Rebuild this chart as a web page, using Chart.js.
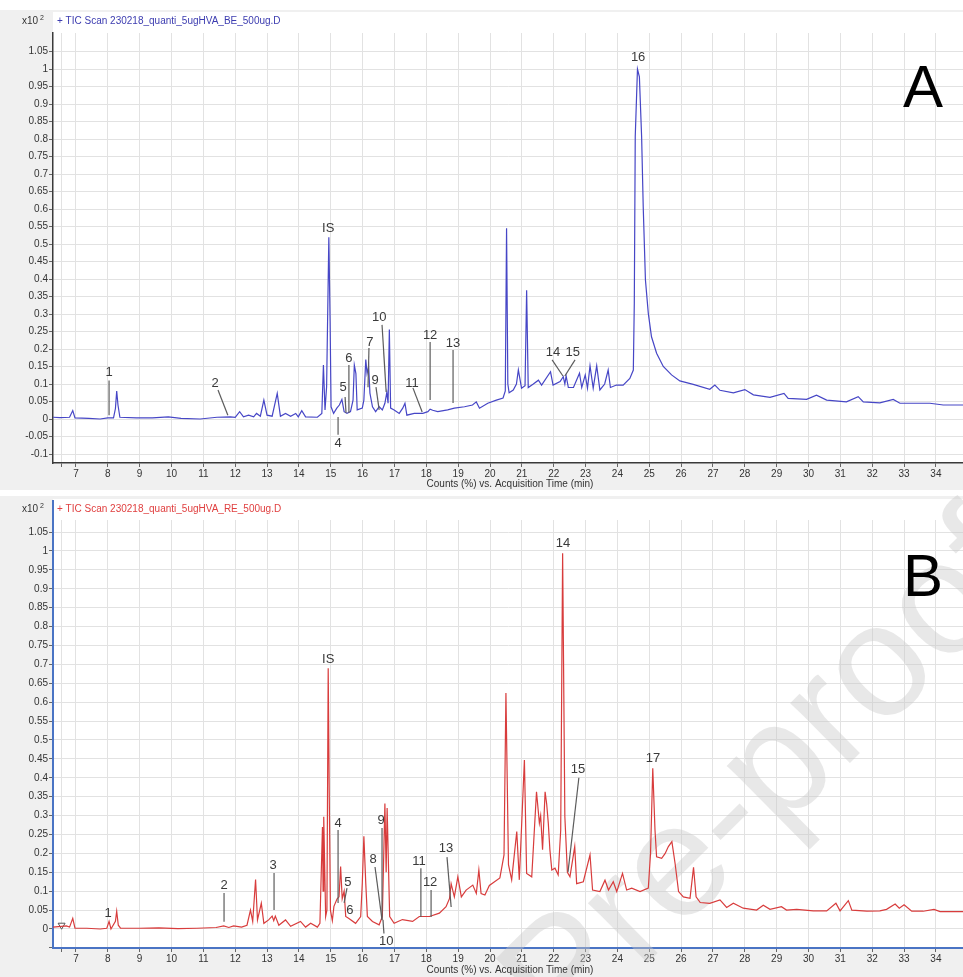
<!DOCTYPE html>
<html>
<head>
<meta charset="utf-8">
<script src="https://cdn.jsdelivr.net/npm/chart.js@4/dist/chart.umd.min.js"></script>
<style>
  html, body { margin: 0; padding: 0; background: #fff; }
  #wrap { width: 963px; height: 977px; }
  canvas { display: block; }
</style>
</head>
<body>
<div id="wrap">
  <canvas id="chartA" width="963" height="490"></canvas>
  <canvas id="chartB" width="963" height="487"></canvas>
</div>
<script>
// ── Data (time in min, counts in x10^2 %) ──

const timeA = [6.28, 6.5, 6.8, 6.9, 6.97, 7.4, 7.76, 8.0, 8.18, 8.24, 8.28, 8.32, 8.38, 8.9, 9.4, 9.9, 10.3, 10.9,
  11.43, 11.85, 12.0, 12.14, 12.26, 12.42, 12.58, 12.67, 12.79, 12.9, 13.0, 13.16, 13.32, 13.42, 13.58, 13.74,
  13.9, 13.98, 14.09, 14.21, 14.58, 14.72, 14.77, 14.82, 14.87, 14.94, 14.98, 15.01, 15.09, 15.19, 15.27, 15.35,
  15.42, 15.51, 15.62, 15.7, 15.74, 15.79, 15.83, 15.99, 16.04, 16.1, 16.14, 16.19, 16.23, 16.31, 16.41, 16.52,
  16.62, 16.7, 16.76, 16.8, 16.84, 16.88, 16.99, 17.15, 17.26, 17.33, 17.39, 17.62, 17.89, 18.05, 18.12, 18.2,
  18.36, 18.67, 18.88, 19.2, 19.45, 19.57, 19.67, 19.93, 20.2, 20.41, 20.48, 20.52, 20.56, 20.6, 20.73, 20.83,
  20.89, 20.99, 21.1, 21.15, 21.2, 21.36, 21.52, 21.62, 21.9, 21.98, 22.2, 22.3, 22.35, 22.39, 22.46, 22.62,
  22.81, 22.88, 22.99, 23.06, 23.14, 23.24, 23.35, 23.45, 23.6, 23.71, 23.78, 23.97, 24.18, 24.39, 24.5, 24.53,
  24.56, 24.63, 24.69, 24.76, 24.81, 24.88, 24.97, 25.07, 25.23, 25.44, 25.7, 25.96, 26.38, 26.9, 27.06, 27.22,
  27.64, 28.0, 28.27, 28.79, 29.23, 29.36, 29.94, 30.25, 30.57, 31.19, 31.56, 31.72, 32.24, 32.66, 32.87, 33.81,
  34.23, 34.85];
const countsA = [0.005, 0.004, 0.005, 0.024, 0.003, 0.002, 0.0, 0.003, 0.003, 0.03, 0.08, 0.04, 0.005, 0.003, 0.003,
  0.006, 0.002, 0.0, 0.005, 0.006, 0.005, 0.021, 0.006, 0.011, 0.006, 0.016, 0.008, 0.054, 0.011, 0.008, 0.073,
  0.008, 0.016, 0.008, 0.016, 0.006, 0.024, 0.006, 0.005, 0.016, 0.154, 0.026, 0.092, 0.519, 0.278, 0.035, 0.016,
  0.031, 0.04, 0.056, 0.021, 0.016, 0.021, 0.054, 0.154, 0.13, 0.026, 0.031, 0.054, 0.17, 0.13, 0.15, 0.074, 0.035,
  0.021, 0.035, 0.026, 0.045, 0.076, 0.045, 0.256, 0.031, 0.026, 0.016, 0.031, 0.045, 0.011, 0.016, 0.016, 0.021,
  0.028, 0.025, 0.021, 0.026, 0.031, 0.035, 0.04, 0.049, 0.031, 0.045, 0.054, 0.06, 0.08, 0.545, 0.1, 0.075, 0.083,
  0.1, 0.14, 0.088, 0.095, 0.368, 0.09, 0.1, 0.111, 0.097, 0.135, 0.097, 0.107, 0.121, 0.1, 0.123, 0.09, 0.09,
  0.131, 0.09, 0.126, 0.088, 0.152, 0.088, 0.152, 0.083, 0.1, 0.14, 0.09, 0.097, 0.097, 0.116, 0.14, 0.33, 0.807,
  1.0, 0.978, 0.807, 0.607, 0.397, 0.302, 0.235, 0.188, 0.15, 0.126, 0.109, 0.099, 0.085, 0.097, 0.082, 0.075,
  0.084, 0.069, 0.062, 0.073, 0.059, 0.056, 0.068, 0.054, 0.049, 0.064, 0.049, 0.046, 0.056, 0.045, 0.045, 0.04,
  0.04];

const timeB = [6.28, 6.7, 6.8, 6.9, 6.97, 7.34, 7.76, 7.97, 8.04, 8.1, 8.24, 8.28, 8.33, 8.4, 9.0, 9.6, 10.2, 10.8,
  11.4, 11.64, 11.8, 11.95, 12.2, 12.37, 12.48, 12.55, 12.64, 12.7, 12.82, 12.9, 13.05, 13.16, 13.21, 13.26, 13.37,
  13.58, 13.74, 14.05, 14.21, 14.37, 14.58, 14.66, 14.74, 14.76, 14.78, 14.84, 14.88, 14.92, 14.95, 14.99, 15.05,
  15.1, 15.2, 15.26, 15.31, 15.36, 15.42, 15.47, 15.57, 15.78, 15.94, 15.99, 16.04, 16.1, 16.15, 16.31, 16.52,
  16.62, 16.7, 16.74, 16.77, 16.85, 16.99, 17.25, 17.57, 17.78, 18.1, 18.41, 18.62, 18.73, 18.78, 18.88, 18.99,
  19.1, 19.25, 19.46, 19.57, 19.65, 19.72, 19.84, 19.98, 20.31, 20.44, 20.5, 20.58, 20.68, 20.84, 20.92, 21.08,
  21.15, 21.31, 21.46, 21.55, 21.59, 21.65, 21.73, 21.78, 21.83, 21.88, 21.94, 22.04, 22.14, 22.22, 22.28, 22.35,
  22.43, 22.51, 22.66, 22.72, 22.93, 23.14, 23.22, 23.45, 23.61, 23.72, 23.87, 23.98, 24.16, 24.29, 24.45, 24.71,
  24.97, 25.04, 25.11, 25.18, 25.23, 25.39, 25.5, 25.6, 25.71, 25.81, 25.92, 26.07, 26.28, 26.39, 26.47, 26.6,
  26.9, 27.22, 27.43, 27.64, 27.95, 28.37, 28.58, 28.79, 29.15, 29.31, 29.63, 30.15, 30.57, 30.86, 30.99, 31.25,
  31.36, 31.83, 32.24, 32.45, 32.72, 32.85, 33.0, 33.24, 33.6, 33.94, 34.13, 34.85];
const countsB = [0.005, 0.008, 0.005, 0.028, 0.002, 0.002, 0.0, 0.002, 0.02, 0.0, 0.02, 0.047, 0.01, 0.002, 0.002,
  0.003, 0.001, 0.002, 0.004, 0.008, 0.004, 0.008, 0.005, 0.01, 0.05, 0.02, 0.131, 0.024, 0.068, 0.015, 0.024,
  0.034, 0.022, 0.034, 0.01, 0.024, 0.007, 0.02, 0.005, 0.015, 0.005, 0.015, 0.27, 0.1, 0.297, 0.033, 0.05, 0.69,
  0.38, 0.05, 0.022, 0.06, 0.08, 0.085, 0.165, 0.08, 0.1, 0.033, 0.028, 0.015, 0.033, 0.12, 0.245, 0.12, 0.033,
  0.02, 0.011, 0.033, 0.332, 0.15, 0.32, 0.033, 0.015, 0.025, 0.02, 0.033, 0.033, 0.042, 0.059, 0.081, 0.12, 0.085,
  0.138, 0.085, 0.103, 0.116, 0.094, 0.156, 0.094, 0.09, 0.115, 0.135, 0.196, 0.624, 0.17, 0.13, 0.258, 0.13,
  0.447, 0.147, 0.138, 0.363, 0.28, 0.3, 0.21, 0.363, 0.33, 0.28, 0.21, 0.156, 0.161, 0.143, 0.262, 0.994, 0.297,
  0.15, 0.138, 0.218, 0.12, 0.125, 0.196, 0.103, 0.099, 0.129, 0.103, 0.125, 0.099, 0.147, 0.103, 0.108, 0.099,
  0.108, 0.2, 0.425, 0.262, 0.191, 0.187, 0.2, 0.218, 0.231, 0.174, 0.099, 0.085, 0.081, 0.163, 0.085, 0.07,
  0.068, 0.077, 0.057, 0.068, 0.055, 0.05, 0.063, 0.052, 0.059, 0.05, 0.052, 0.048, 0.048, 0.068, 0.048, 0.075,
  0.05, 0.047, 0.048, 0.052, 0.066, 0.055, 0.064, 0.047, 0.047, 0.052, 0.046, 0.046];

// tick values
const xTicks = [6.56, 7, 8, 9, 10, 11, 12, 13, 14, 15, 16, 17, 18, 19, 20, 21, 22, 23, 24, 25, 26, 27, 28, 29, 30,
  31, 32, 33, 34];
const yTicksA = [-0.1, -0.05, 0, 0.05, 0.1, 0.15, 0.2, 0.25, 0.3, 0.35, 0.4, 0.45, 0.5, 0.55, 0.6, 0.65, 0.7, 0.75,
  0.8, 0.85, 0.9, 0.95, 1, 1.05];
const yTicksB = [-0.05, 0, 0.05, 0.1, 0.15, 0.2, 0.25, 0.3, 0.35, 0.4, 0.45, 0.5, 0.55, 0.6, 0.65, 0.7, 0.75, 0.8,
  0.85, 0.9, 0.95, 1, 1.05];

// peak labels: [text, time, counts]  and leader lines: [t1, v1, t2, v2]
const labelsA = [['1', 8.04, 0.134], ['2', 11.37, 0.103], ['IS', 14.92, 0.546], ['4', 15.23, -0.071],
  ['5', 15.39, 0.089], ['6', 15.57, 0.174], ['7', 16.23, 0.22], ['9', 16.39, 0.111], ['10', 16.52, 0.289],
  ['11', 17.55, 0.103], ['12', 18.12, 0.24], ['13', 18.84, 0.217], ['14', 21.98, 0.189], ['15', 22.6, 0.189],
  ['16', 24.65, 1.034]];
const leadersA = [[8.04, 0.11, 8.04, 0.011], [11.46, 0.083, 11.77, 0.011], [15.23, 0.006, 15.23, -0.045],
  [15.45, 0.063, 15.48, 0.017], [15.57, 0.154, 15.57, 0.017], [16.2, 0.203, 16.17, 0.091],
  [16.42, 0.091, 16.52, 0.026], [16.61, 0.269, 16.74, 0.077], [17.58, 0.089, 17.87, 0.02],
  [18.12, 0.22, 18.12, 0.054], [18.84, 0.197, 18.84, 0.046], [21.95, 0.169, 22.29, 0.123],
  [22.67, 0.169, 22.35, 0.123]];

const labelsB = [['1', 8.01, 0.04], ['2', 11.65, 0.114], ['3', 13.19, 0.167], ['IS', 14.92, 0.712],
  ['4', 15.23, 0.28], ['5', 15.54, 0.122], ['6', 15.6, 0.048], ['8', 16.33, 0.185], ['9', 16.58, 0.288],
  ['10', 16.74, -0.032], ['11', 17.77, 0.18], ['12', 18.12, 0.122], ['13', 18.62, 0.212], ['14', 22.29, 1.019],
  ['15', 22.76, 0.423], ['17', 25.12, 0.45]];
const leadersB = [[11.65, 0.095, 11.65, 0.019], [13.22, 0.148, 13.22, 0.05], [15.23, 0.262, 15.23, 0.069],
  [15.51, 0.108, 15.42, 0.069], [16.39, 0.164, 16.61, 0.024], [16.61, 0.267, 16.61, 0.024],
  [16.64, 0.024, 16.67, -0.012], [17.83, 0.161, 17.83, 0.032], [18.15, 0.103, 18.15, 0.032],
  [18.65, 0.19, 18.78, 0.058], [22.79, 0.4, 22.45, 0.151]];

// ─────────────────────────────────────────────────────────────

const FONT = '"Liberation Sans", Arial, sans-serif';

const panelDecor = {
  id: 'panelDecor',
  beforeDraw(chart, args, o) {
    const { ctx, chartArea, width, height } = chart;
    ctx.save();
    ctx.fillStyle = '#f0f0f0';
    ctx.fillRect(0, o.grayTop, width, height - o.grayTop);
    ctx.fillStyle = '#fff';
    ctx.fillRect(chartArea.left, o.whiteTop, width - chartArea.left, chartArea.bottom - o.whiteTop);
    ctx.restore();
  },
  beforeDatasetsDraw(chart, args, o) {
    if (!o.watermark) return;
    const { ctx } = chart;
    ctx.save();
    ctx.translate(o.watermark.x, o.watermark.y);
    ctx.rotate(o.watermark.angle);
    ctx.font = o.watermark.size + 'px ' + FONT;
    ctx.fillStyle = 'rgba(200,200,200,0.42)';
    ctx.textAlign = 'center';
    ctx.textBaseline = 'middle';
    ctx.fillText(o.watermark.text, 0, 0);
    ctx.restore();
  },
  afterDraw(chart, args, o) {
    const { ctx, chartArea } = chart;
    ctx.save();
    // x10^2 and the trace title
    ctx.fillStyle = '#333';
    ctx.font = '10px ' + FONT;
    ctx.textBaseline = 'middle';
    ctx.fillText('x10', 22, o.titleY);
    ctx.font = '7px ' + FONT;
    ctx.fillText('2', 40, o.titleY - 3);
    ctx.font = '10px ' + FONT;
    ctx.fillStyle = o.titleColor;
    ctx.fillText(o.title, 57, o.titleY);
    // axis title
    ctx.fillStyle = '#333';
    ctx.textAlign = 'center';
    ctx.fillText('Counts (%) vs. Acquisition Time (min)', 510, o.xTitleY);
    // panel letter
    ctx.fillStyle = '#000';
    ctx.font = '60px ' + FONT;
    ctx.textAlign = 'left';
    ctx.textBaseline = 'alphabetic';
    ctx.fillText(o.letter, 903, o.letterY);
    if (o.axisTop !== undefined) {
      ctx.strokeStyle = o.axisColor;
      ctx.lineWidth = 2;
      ctx.beginPath();
      ctx.moveTo(chartArea.left, o.axisTop);
      ctx.lineTo(chartArea.left, chartArea.top);
      ctx.stroke();
    }
    ctx.restore();
  }
};

const peakLabels = {
  id: 'peakLabels',
  afterDatasetsDraw(chart, args, o) {
    const { ctx, scales: { x, y } } = chart;
    ctx.save();
    ctx.strokeStyle = '#5c5c5c';
    ctx.lineWidth = 1.2;
    o.leaders.forEach(([t1, v1, t2, v2]) => {
      ctx.beginPath();
      ctx.moveTo(x.getPixelForValue(t1), y.getPixelForValue(v1));
      ctx.lineTo(x.getPixelForValue(t2), y.getPixelForValue(v2));
      ctx.stroke();
    });
    ctx.font = '13px ' + FONT;
    ctx.fillStyle = '#3a3a3a';
    ctx.textAlign = 'center';
    ctx.textBaseline = 'middle';
    o.labels.forEach(([txt, t, v]) => ctx.fillText(txt, x.getPixelForValue(t), y.getPixelForValue(v)));
    ctx.restore();
  }
};

function makeChromatogram(id, p) {
  const datasets = [{
    data: p.times.map((t, i) => ({ x: t, y: p.counts[i] })),
    borderColor: p.color,
    borderWidth: 1.2,
    pointRadius: 0,
    tension: 0
  }];
  if (p.marker) {
    datasets.push({
      data: [p.marker], showLine: false, pointStyle: 'triangle', rotation: 180, pointRadius: 4,
      pointBackgroundColor: '#fff', pointBorderColor: '#555', pointBorderWidth: 1
    });
  }
  return new Chart(document.getElementById(id), {
    type: 'line',
    data: { datasets },
    plugins: [panelDecor, peakLabels],
    options: {
      responsive: false, animation: false, devicePixelRatio: 1,
      layout: { autoPadding: false, padding: { top: p.top, left: 0, right: 0, bottom: 0 } },
      plugins: {
        legend: { display: false }, tooltip: { enabled: false },
        panelDecor: p.decor,
        peakLabels: { labels: p.labels, leaders: p.leaders }
      },
      scales: {
        x: {
          type: 'linear', min: 6.28, max: 34.85,
          afterBuildTicks: s => { s.ticks = xTicks.map(v => ({ value: v })); },
          afterFit: s => { s.height = p.xHeight; },
          ticks: { autoSkip: false, maxRotation: 0, padding: 1, color: '#333', font: { size: 10, family: FONT },
            callback: v => Number.isInteger(v) ? String(v) : '' },
          grid: { color: '#e2e2e2', lineWidth: 1, tickLength: 4, tickColor: '#666' },
          border: { color: p.axisColor, width: p.axisWidth }
        },
        y: {
          min: p.yMin, max: p.yMax,
          afterBuildTicks: s => { s.ticks = p.yTicks.map(v => ({ value: v })); },
          afterFit: s => { s.width = 53; },
          ticks: { autoSkip: false, padding: 1, color: '#333', font: { size: 10, family: FONT },
            callback: v => (p.yLabelMin !== undefined && v < p.yLabelMin) ? '' : String(+v.toFixed(2)) },
          grid: { color: '#e2e2e2', lineWidth: 1, tickLength: 4, tickColor: '#666' },
          border: { color: p.axisColor, width: p.axisWidth }
        }
      }
    }
  });
}

makeChromatogram('chartA', {
  times: timeA, counts: countsA, color: '#4646c6',
  yMin: -0.1257, yMax: 1.103, yTicks: yTicksA, top: 33, xHeight: 27,
  axisColor: '#3a3a3a', axisWidth: 1.5,
  labels: labelsA, leaders: leadersA,
  decor: { grayTop: 10, whiteTop: 12, titleY: 21, xTitleY: 484, letterY: 107, letter: 'A',
    title: '+ TIC Scan 230218_quanti_5ugHVA_BE_500ug.D', titleColor: '#3c3cb0' }
});

makeChromatogram('chartB', {
  times: timeB, counts: countsB, color: '#d83c3c',
  yMin: -0.0503, yMax: 1.082, yTicks: yTicksB, yLabelMin: 0, top: 30, xHeight: 29,
  axisColor: '#4a74c4', axisWidth: 2,
  labels: labelsB, leaders: leadersB, marker: { x: 6.55, y: 0.01 },
  decor: { grayTop: 6, whiteTop: 9, titleY: 19, xTitleY: 480, letterY: 106, letter: 'B',
    title: '+ TIC Scan 230218_quanti_5ugHVA_RE_500ug.D', titleColor: '#e04040',
    axisTop: 10, axisColor: '#4a74c4',
    watermark: { text: 'Pre-proof', x: 770, y: 290, angle: -0.78, size: 160 } }
});
</script>
</body>
</html>
